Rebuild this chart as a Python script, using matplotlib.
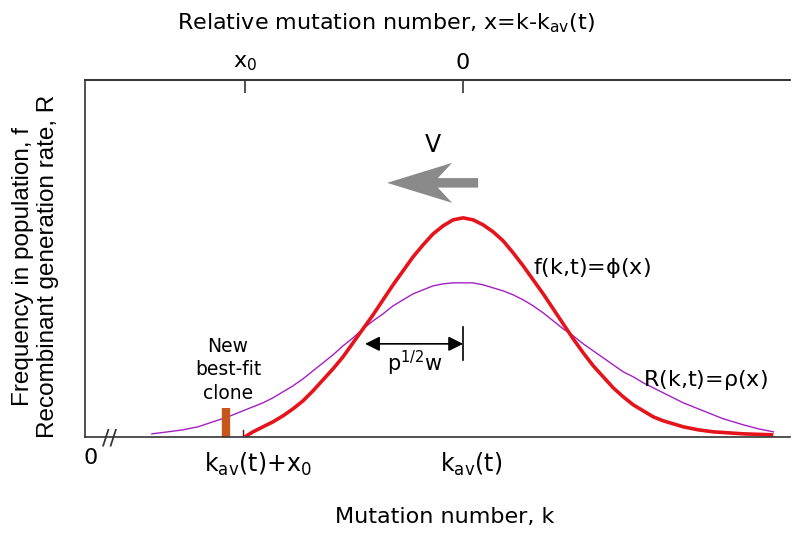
import matplotlib.pyplot as plt

# relative mutation number x = k - k_av(t), heights in arbitrary units
f_x = [-2.18, -2.1, -2.0, -1.9, -1.8, -1.7, -1.6, -1.5, -1.4, -1.3, -1.2, -1.1, -1.0,
       -0.9, -0.8, -0.7, -0.6, -0.5, -0.4, -0.3, -0.2, -0.1, 0.0, 0.1, 0.2, 0.3, 0.4,
       0.5, 0.6, 0.7, 0.8, 0.9, 1.0, 1.1, 1.2, 1.3, 1.4, 1.5, 1.6, 1.7, 1.8, 1.9, 2.0,
       2.1, 2.2, 2.35, 2.5, 2.65, 2.8, 2.95, 3.1]
f_y = [0.0, 0.05, 0.10, 0.15, 0.21, 0.28, 0.36, 0.46, 0.57, 0.68, 0.80, 0.94, 1.08,
       1.22, 1.37, 1.52, 1.66, 1.80, 1.92, 2.03, 2.11, 2.17, 2.19, 2.17, 2.12, 2.05, 1.96,
       1.84, 1.71, 1.57, 1.43, 1.28, 1.13, 0.98, 0.84, 0.71, 0.60, 0.49, 0.40, 0.32, 0.26,
       0.20, 0.16, 0.13, 0.10, 0.07, 0.05, 0.04, 0.03, 0.025, 0.02]

r_x = [-3.11, -2.95, -2.8, -2.65, -2.5, -2.35, -2.2, -2.1, -2.0, -1.9, -1.8, -1.7, -1.6,
       -1.5, -1.4, -1.3, -1.2, -1.1, -1.0, -0.9, -0.8, -0.7, -0.6, -0.5, -0.4, -0.3, -0.2,
       -0.1, 0.0, 0.1, 0.2, 0.3, 0.4, 0.5, 0.6, 0.7, 0.8, 0.9, 1.0, 1.1, 1.2, 1.3, 1.4,
       1.5, 1.6, 1.7, 1.8, 1.9, 2.0, 2.1, 2.2, 2.3, 2.4, 2.5, 2.6, 2.7, 2.8, 2.95, 3.1]
r_y = [0.03, 0.05, 0.07, 0.10, 0.15, 0.20, 0.26, 0.30, 0.34, 0.39, 0.45, 0.51, 0.58,
       0.66, 0.74, 0.82, 0.91, 0.99, 1.08, 1.16, 1.23, 1.31, 1.37, 1.43, 1.47, 1.51, 1.53,
       1.54, 1.54, 1.54, 1.52, 1.49, 1.46, 1.42, 1.37, 1.31, 1.24, 1.16, 1.08, 1.01, 0.93,
       0.86, 0.79, 0.72, 0.65, 0.60, 0.54, 0.49, 0.44, 0.39, 0.34, 0.30, 0.26, 0.22, 0.18,
       0.15, 0.12, 0.08, 0.05]

x0 = -2.18          # position of the new best-fit clone front
clone_x = -2.37
clone_h = 0.29
half_width = -0.98  # p^{1/2} w

bottom_ticks = [-2.05, 0.08]
bottom_labels = ['k$_{\\mathregular{av}}$(t)+x$_{\\mathregular{0}}$', 'k$_{\\mathregular{av}}$(t)']
top_ticks = [x0, 0.0]
top_labels = ['x$_{\\mathregular{0}}$', '0']

fig = plt.figure(figsize=(8, 5.36), dpi=100)
ax = fig.add_axes([0.106, 0.185, 0.882, 0.666])
ax.set_xlim(-3.78, 3.27)
ax.set_ylim(0, 3.57)

axc = '#333333'
for s in ['left', 'bottom', 'top']:
    ax.spines[s].set_color(axc)
    ax.spines[s].set_linewidth(1.2)
ax.spines['right'].set_visible(False)

ax.plot(r_x, r_y, color='#a31fc4', lw=1.0, solid_joinstyle='round')
ax.plot(f_x, f_y, color='#e5141b', lw=2.6, solid_capstyle='butt', solid_joinstyle='round')
ax.plot([x0 - 0.02, x0 - 0.02], [0, 0.07], color='#551111', lw=1.0)

# new best-fit clone
ax.plot([clone_x, clone_x], [0, clone_h], color='#c8561a', lw=6, solid_capstyle='butt')
ax.text(clone_x + 0.02, 0.34, 'New\nbest-fit\nclone', ha='center', va='bottom',
        fontsize=13.5, linespacing=1.3)

# velocity arrow
ax.arrow(0.15, 2.54, -0.91, 0, width=0.095, head_width=0.40, head_length=0.65,
         overhang=0.22, length_includes_head=True, color='#8a8a8a', lw=0)
ax.text(-0.30, 2.92, 'V', ha='center', va='center', fontsize=17)

# width arrow
ax.annotate('', xy=(half_width, 0.93), xytext=(0, 0.93),
            arrowprops=dict(arrowstyle='<|-|>', color='black', lw=1.2,
                            mutation_scale=22, shrinkA=0, shrinkB=0))
ax.plot([0, 0], [0.77, 1.10], color='black', lw=1.2)
ax.text(-0.48, 0.73, r'p$^{\mathregular{1/2}}$w', ha='center', va='center', fontsize=15)

ax.text(0.70, 1.69, r'f(k,t)=$\mathregular{\phi}$(x)', ha='left', va='center', fontsize=16)
ax.text(1.80, 0.57, r'R(k,t)=$\mathregular{\rho}$(x)', ha='left', va='center', fontsize=16)

# axes labels and ticks
ax.set_xticks(bottom_ticks)
ax.set_xticklabels(bottom_labels, fontsize=17)
ax.tick_params(axis='x', length=0, pad=10)
ax.set_yticks([])
ax.text(-3.72, -0.21, '0', ha='center', va='center', fontsize=16)
ax.text(-3.53, -0.02, '//', ha='center', va='center', fontsize=16, color=axc)
ax.text(-0.18, -0.80, 'Mutation number, k', ha='center', va='center', fontsize=16)

ax.text(-4.40, 1.70, 'Frequency in population, f', rotation=90,
        ha='center', va='center', fontsize=17.5, family='Liberation Sans')
ax.text(-4.15, 1.70, 'Recombinant generation rate, R', rotation=90,
        ha='center', va='center', fontsize=17.5, family='Liberation Sans')

top = ax.twiny()
top.set_xlim(ax.get_xlim())
top.set_xticks(top_ticks)
top.set_xticklabels(top_labels, fontsize=16)
top.tick_params(axis='x', direction='in', length=9, width=1.2, color=axc, pad=5)
for s in ['left', 'right', 'bottom']:
    top.spines[s].set_visible(False)
top.spines['top'].set_color(axc)
top.spines['top'].set_linewidth(1.2)
ax.text(-0.77, 4.14, r'Relative mutation number, x=k-k$_{\mathregular{av}}$(t)',
        ha='center', va='center', fontsize=16)

fig.savefig('out.png', dpi=100)
